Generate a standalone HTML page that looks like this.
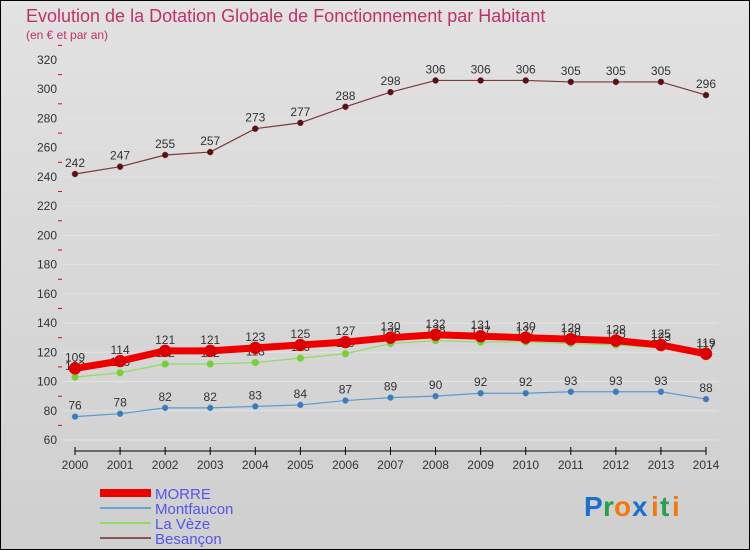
<!DOCTYPE html>
<html><head><meta charset="utf-8"><style>
body{margin:0;width:750px;height:550px;overflow:hidden;font-family:"Liberation Sans","DejaVu Sans",sans-serif}
#bg{position:absolute;left:0;top:0;width:748px;height:548px;border:1px solid #000;background:linear-gradient(#e2e2e2,#cfcfcf)}
</style></head><body>
<div id="bg"></div>
<svg id="c" width="750" height="550" style="position:absolute;left:0;top:0">
<text x="26" y="22" font-size="18" fill="#c0306a">Evolution de la Dotation Globale de Fonctionnement par Habitant</text>
<text x="26" y="39" font-size="12" fill="#c0306a">(en € et par an)</text>
<g id="grid"></g><g id="axes"></g><g id="series"></g><g id="legend"></g>
<g font-size="28" font-weight="bold">
<text x="584" y="516" fill="#1a6fd0">P</text><text x="603" y="516" fill="#28a050">r</text><text x="614" y="516" fill="#f07a10">o</text><text x="632" y="516" fill="#1a6fd0">x</text><text x="651" y="516" fill="#f07a10">i</text><text x="660" y="516" fill="#28a050">t</text><text x="672" y="516" fill="#f07a10">i</text>
</g>
</svg>
<script>
const years=[2000,2001,2002,2003,2004,2005,2006,2007,2008,2009,2010,2011,2012,2013,2014];
const morre=[109,114,121,121,123,125,127,130,132,131,130,129,128,125,119];
const montfaucon=[76,78,82,82,83,84,87,89,90,92,92,93,93,93,88];
const laVeze=[103,106,112,112,113,116,119,126,128,127,127,126,125,123,117];
const besancon=[242,247,255,257,273,277,288,298,306,306,306,305,305,305,296];
const yTicks=[60,80,100,120,140,160,180,200,220,240,260,280,300,320];
const NS="http://www.w3.org/2000/svg";
const x=i=>75+i*(706-75)/(years.length-1);
const y=v=>440-(v-60)*(380/260);
function mk(tag,attrs,parent,txt){const e=document.createElementNS(NS,tag);for(const k in attrs)e.setAttribute(k,attrs[k]);if(txt!=null)e.textContent=txt;document.getElementById(parent).appendChild(e);return e;}
yTicks.forEach(t=>{
 const g=mk('line',{x1:62,x2:718,y1:y(t),y2:y(t),stroke:'#e2e2e2','stroke-width':1},'grid');
 
 
 const l=mk('text',{x:57,y:y(t)+4,'font-size':12,'text-anchor':'end',fill:'#333'},'axes',t);
 
 
 const m=mk('line',{x1:58,x2:62,y1:y(t+10),y2:y(t+10),stroke:'#e00','stroke-width':1},'axes');
 
 
});
const ax=mk('line',{x1:75,x2:706,y1:451,y2:451,stroke:'#000','stroke-width':1},'axes');


years.forEach((yr,i)=>{
 const t=mk('line',{x1:x(i),x2:x(i),y1:447,y2:455,stroke:'#000'},'axes');
 
 
 const l=mk('text',{x:x(i),y:469,'font-size':12,'text-anchor':'middle',fill:'#333'},'axes',yr);
 
 
});
function series(name,vals,color,w,r,dot,lblDy){
 const pts=vals.map((v,i)=>x(i)+','+y(v)).join(' ');
 const p=mk('polyline',{points:pts,fill:'none',stroke:color,'stroke-width':w,'stroke-linejoin':'round'},'series');
 
 
 vals.forEach((v,i)=>{
  const c=mk('circle',{cx:x(i),cy:y(v),r:r,fill:dot,stroke:color,'stroke-width':0.5},'series');
  
  
  const t=mk('text',{x:x(i),y:y(v)+lblDy,'font-size':12,'text-anchor':'middle',fill:'#333'},'series',v);
  
  
 });
}
series('besancon',besancon,'#7a3a3a',1.2,3,'#5a1010',-7);
series('montfaucon',montfaucon,'#5a9acc',1.2,3,'#3a7abf',-7);
series('la-veze',laVeze,'#90dd60',1.2,3.5,'#7acc3a',-7);
series('morre',morre,'#ee0000',7,6,'#dd0000',-7);
const leg=[['MORRE','#ee0000',8],['Montfaucon','#6fa3cf',2],['La Vèze','#90dd60',2],['Besançon','#8a5555',2]];
leg.forEach((d,i)=>{
 const yy=493+i*15;
 const l=mk('line',{x1:100,x2:151,y1:yy,y2:yy,stroke:d[1],'stroke-width':d[2]},'legend');
 
 
 const t=mk('text',{x:155,y:yy+6,'font-size':15,fill:'#5555ee'},'legend',d[0]);
 
 
});
</script>
</body></html>
